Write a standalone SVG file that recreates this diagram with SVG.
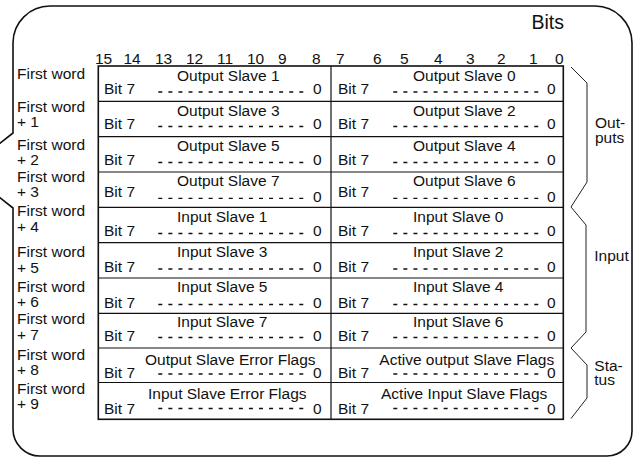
<svg xmlns="http://www.w3.org/2000/svg" width="636" height="458" viewBox="0 0 636 458">
<style>
text{font-family:"Liberation Sans",Arial,Helvetica,sans-serif;font-size:15.5px;fill:#111}
.bits{font-size:19.5px}
.outer{fill:none;stroke:#111;stroke-width:1.6}
.border{fill:none;stroke:#111;stroke-width:1.6}
.rule{stroke:#111;stroke-width:1.2}
.dash{stroke:#111;stroke-width:1.3;stroke-dasharray:4 6.07}
.brace{fill:none;stroke:#222;stroke-width:1}
</style>
<rect width="636" height="458" fill="#fff"/>
<path class="outer" d="M50 6H595A37 37 0 0 1 632 43V431A25 25 0 0 1 607 456H40A27 27 0 0 1 13 429V208L-35 170.5L13 133V43A37 37 0 0 1 50 6Z"/>
<g id="header">
<text class="bits" x="531.5" y="29.3">Bits</text>
<text x="95" y="64">15</text><text x="123.5" y="64">14</text><text x="155" y="64">13</text><text x="186" y="64">12</text>
<text x="217" y="64">11</text><text x="247" y="64">10</text><text x="278" y="64">9</text><text x="312" y="64">8</text>
<text x="336" y="64">7</text><text x="373" y="64">6</text><text x="400" y="64">5</text><text x="434" y="64">4</text>
<text x="466" y="64">3</text><text x="497" y="64">2</text><text x="529" y="64">1</text><text x="555" y="64">0</text>
</g>
<g id="word-labels">
<text x="17" y="79">First word</text>
<text x="17" y="112.3">First word</text><text x="17" y="127.3">+ 1</text>
<text x="17" y="150">First word</text><text x="17" y="165">+ 2</text>
<text x="17" y="181.7">First word</text><text x="17" y="197">+ 3</text>
<text x="17" y="216">First word</text><text x="17" y="231.7">+ 4</text>
<text x="17" y="257.3">First word</text><text x="17" y="272.5">+ 5</text>
<text x="17" y="291.7">First word</text><text x="17" y="306.7">+ 6</text>
<text x="17" y="324">First word</text><text x="17" y="340">+ 7</text>
<text x="17" y="360">First word</text><text x="17" y="375">+ 8</text>
<text x="17" y="394">First word</text><text x="17" y="408.5">+ 9</text>
</g>
<g id="table">
<rect class="border" x="98.3" y="66" width="465" height="353.3"/>
<line class="rule" x1="331" y1="66" x2="331" y2="419.3"/>
<line class="rule" x1="98.3" y1="101.3" x2="563.3" y2="101.3"/>
<line class="rule" x1="98.3" y1="136.7" x2="563.3" y2="136.7"/>
<line class="rule" x1="98.3" y1="172" x2="563.3" y2="172"/>
<line class="rule" x1="98.3" y1="207.3" x2="563.3" y2="207.3"/>
<line class="rule" x1="98.3" y1="242.7" x2="563.3" y2="242.7"/>
<line class="rule" x1="98.3" y1="278" x2="563.3" y2="278"/>
<line class="rule" x1="98.3" y1="313.3" x2="563.3" y2="313.3"/>
<line class="rule" x1="98.3" y1="348" x2="563.3" y2="348"/>
<line class="rule" x1="98.3" y1="382.5" x2="563.3" y2="382.5"/>
</g>
<g id="cell-out1"><text x="177" y="80.5">Output Slave 1</text><text x="104" y="94">Bit 7</text><line class="dash" x1="158.3" y1="92" x2="303.3" y2="92"/><text x="313" y="94">0</text></g>
<g id="cell-out0"><text x="413" y="80.5">Output Slave 0</text><text x="338" y="94">Bit 7</text><line class="dash" x1="393.3" y1="92" x2="538.3" y2="92"/><text x="547" y="94">0</text></g>
<g id="cell-out3"><text x="177" y="115.5">Output Slave 3</text><text x="104" y="129">Bit 7</text><line class="dash" x1="158.3" y1="126.5" x2="303.3" y2="126.5"/><text x="313" y="129">0</text></g>
<g id="cell-out2"><text x="413" y="115.5">Output Slave 2</text><text x="338" y="129">Bit 7</text><line class="dash" x1="393.3" y1="126.5" x2="538.3" y2="126.5"/><text x="547" y="129">0</text></g>
<g id="cell-out5"><text x="177" y="151">Output Slave 5</text><text x="104" y="165">Bit 7</text><line class="dash" x1="158.3" y1="162.5" x2="303.3" y2="162.5"/><text x="313" y="165">0</text></g>
<g id="cell-out4"><text x="413" y="151">Output Slave 4</text><text x="338" y="165">Bit 7</text><line class="dash" x1="393.3" y1="162.5" x2="538.3" y2="162.5"/><text x="547" y="165">0</text></g>
<g id="cell-out7"><text x="177" y="185.5">Output Slave 7</text><text x="104" y="196.7">Bit 7</text><line class="dash" x1="158.3" y1="198.3" x2="303.3" y2="198.3"/><text x="313" y="201.5">0</text></g>
<g id="cell-out6"><text x="413" y="185.5">Output Slave 6</text><text x="338" y="196.7">Bit 7</text><line class="dash" x1="393.3" y1="198.3" x2="538.3" y2="198.3"/><text x="547" y="201.5">0</text></g>
<g id="cell-in1"><text x="177" y="222">Input Slave 1</text><text x="104" y="236">Bit 7</text><line class="dash" x1="158.3" y1="233.5" x2="303.3" y2="233.5"/><text x="313" y="236">0</text></g>
<g id="cell-in0"><text x="413" y="222">Input Slave 0</text><text x="338" y="236">Bit 7</text><line class="dash" x1="393.3" y1="233.5" x2="538.3" y2="233.5"/><text x="547" y="236">0</text></g>
<g id="cell-in3"><text x="177" y="257">Input Slave 3</text><text x="104" y="272">Bit 7</text><line class="dash" x1="158.3" y1="269" x2="303.3" y2="269"/><text x="313" y="272">0</text></g>
<g id="cell-in2"><text x="413" y="257">Input Slave 2</text><text x="338" y="272">Bit 7</text><line class="dash" x1="393.3" y1="269" x2="538.3" y2="269"/><text x="547" y="272">0</text></g>
<g id="cell-in5"><text x="177" y="292">Input Slave 5</text><text x="104" y="307.5">Bit 7</text><line class="dash" x1="158.3" y1="304.5" x2="303.3" y2="304.5"/><text x="313" y="307.5">0</text></g>
<g id="cell-in4"><text x="413" y="292">Input Slave 4</text><text x="338" y="307.5">Bit 7</text><line class="dash" x1="393.3" y1="304.5" x2="538.3" y2="304.5"/><text x="547" y="307.5">0</text></g>
<g id="cell-in7"><text x="177" y="327">Input Slave 7</text><text x="104" y="340.5">Bit 7</text><line class="dash" x1="158.3" y1="337.5" x2="303.3" y2="337.5"/><text x="313" y="340.5">0</text></g>
<g id="cell-in6"><text x="413" y="327">Input Slave 6</text><text x="338" y="340.5">Bit 7</text><line class="dash" x1="393.3" y1="337.5" x2="538.3" y2="337.5"/><text x="547" y="340.5">0</text></g>
<g id="cell-out-err"><text x="145" y="364.5">Output Slave Error Flags</text><text x="104" y="378.3">Bit 7</text><line class="dash" x1="158.3" y1="374" x2="303.3" y2="374"/><text x="313" y="378.3">0</text></g>
<g id="cell-act-out"><text x="379.3" y="364.5">Active output Slave Flags</text><text x="338" y="378.3">Bit 7</text><line class="dash" x1="393.3" y1="374" x2="538.3" y2="374"/><text x="547" y="378.3">0</text></g>
<g id="cell-in-err"><text x="148" y="399.3">Input Slave Error Flags</text><text x="104" y="414">Bit 7</text><line class="dash" x1="158.3" y1="408.5" x2="303.3" y2="408.5"/><text x="313" y="414">0</text></g>
<g id="cell-act-in"><text x="381" y="399.3">Active Input Slave Flags</text><text x="338" y="414">Bit 7</text><line class="dash" x1="393.3" y1="408.5" x2="538.3" y2="408.5"/><text x="547" y="414">0</text></g>
<g id="connectors">
<polyline class="brace" points="571,67 587,83 587,182 571,207 586,225 586,332 571,348 587,365 587,398 571,418.5"/>
</g>
<g id="group-labels">
<text x="595" y="128.3">Out-</text><text x="595" y="143">puts</text>
<text x="594.3" y="260.5">Input</text>
<text x="594.3" y="370.5">Sta-</text><text x="594.3" y="385">tus</text>
</g>
</svg>
